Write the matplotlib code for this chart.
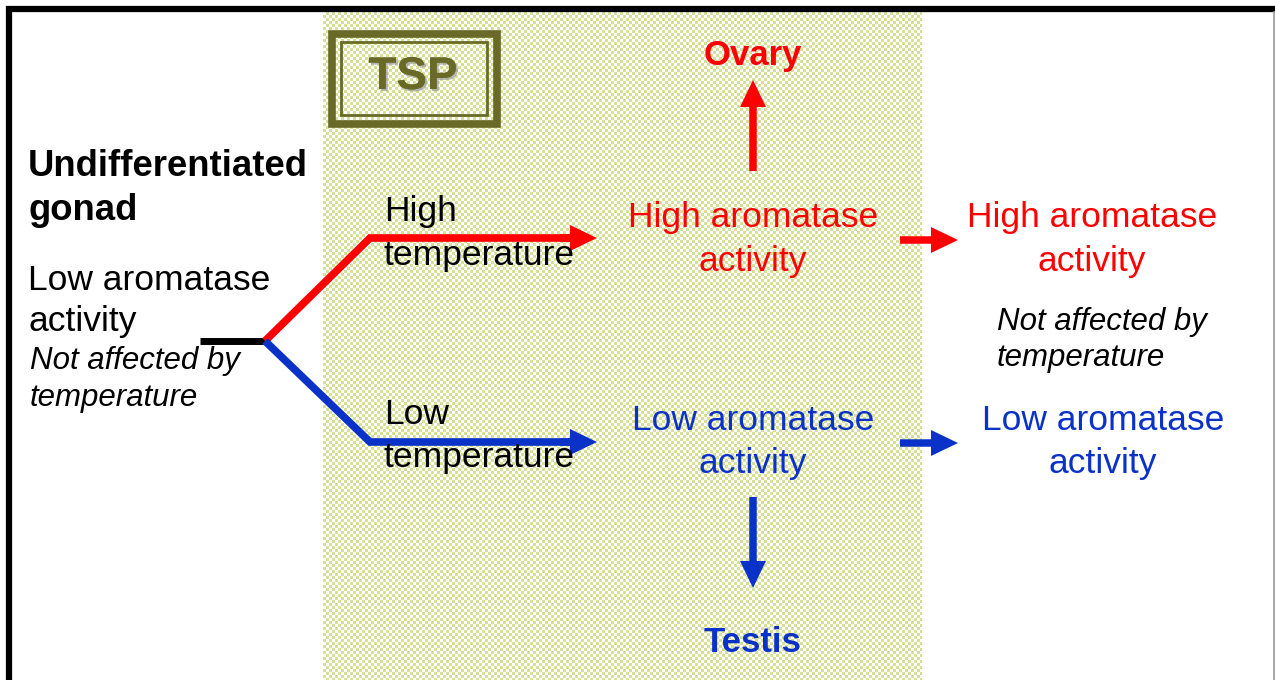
import numpy as np
import matplotlib
matplotlib.use("Agg")
import matplotlib.pyplot as plt
import matplotlib.patheffects as pe

plt.rcParams['font.family'] = ['Liberation Sans', 'DejaVu Sans']

W, H = 1275, 680
RED = "#ff0000"
BLUE = "#0a32c8"
OLIVE = "#696a28"
GREEN = (0.84, 0.878, 0.59)

# texts of the diagram
left_title = ["Undifferentiated", "gonad"]
left_state = ["Low aromatase", "activity"]
left_note = ["Not affected by", "temperature"]
high_temp = ["High", "temperature"]
low_temp = ["Low", "temperature"]
high_arom = ["High aromatase", "activity"]
low_arom = ["Low aromatase", "activity"]
right_note = ["Not affected by", "temperature"]
box_label = "TSP"
top_outcome = "Ovary"
bottom_outcome = "Testis"

fig = plt.figure(figsize=(W / 100, H / 100), dpi=100, facecolor="white")

# checkered TSP background, drawn pixel for pixel
cell = 3
x0, x1, y0 = 323, 922, 12
pw, ph = x1 - x0, H - y0
rows = np.arange(ph) // cell
cols = np.arange(pw) // cell
mask = np.add.outer(rows, cols) % 2
rgb = np.ones((ph, pw, 3))
rgb[mask == 1] = GREEN
fig.figimage(rgb, xo=x0, yo=0, origin="upper", zorder=0)

ax = fig.add_axes([0, 0, 1, 1])
ax.set_zorder(2)
ax.patch.set_visible(False)
ax.set_xlim(0, W)
ax.set_ylim(H, 0)
ax.axis("off")

# frame
ax.plot([9, 9, W], [H, 9, 9], color="black", lw=4.5, solid_joinstyle="miter", zorder=5)
ax.plot([W - 1.5, W - 1.5], [12, H], color="#999999", lw=1.2, zorder=5)

# TSP box
ax.add_patch(plt.Rectangle((331.5, 33.5), 165, 90, fill=False, ec=OLIVE, lw=5.5, zorder=3))
ax.add_patch(plt.Rectangle((341, 42), 146, 73, fill=False, ec=OLIVE, lw=2, zorder=3))
ax.text(413, 77, box_label, color=OLIVE, fontsize=33, fontweight="bold",
        ha="center", va="center", zorder=4,
        path_effects=[pe.withSimplePatchShadow(offset=(1.5, -1.5), shadow_rgbFace="#9a9a9a", alpha=0.7),
                      pe.Normal()])

fs = 25.5

# left block
for i, t in enumerate(left_title):
    ax.text(28, 167 + i * 43, t, fontsize=26.3, fontweight="bold", va="center")
for i, t in enumerate(left_state):
    ax.text(28, 280 + i * 42, t, fontsize=fs, va="center")
for i, t in enumerate(left_note):
    ax.text(30, 361 + i * 37, t, fontsize=22.5, style="italic", va="center")

# branch lines
ax.plot([200, 265], [341, 341], color="black", lw=5, solid_capstyle="butt", zorder=2)
ax.plot([265, 370, 570], [341, 238, 238], color=RED, lw=5.5,
        solid_joinstyle="miter", solid_capstyle="butt", zorder=2)
ax.plot([265, 370, 570], [341, 442, 442], color=BLUE, lw=5.5,
        solid_joinstyle="miter", solid_capstyle="butt", zorder=2)

def arrow(x, y, dx, dy, c):
    ax.arrow(x, y, dx, dy, width=7.5, head_width=26, head_length=27,
             length_includes_head=True, color=c, lw=0, zorder=2)

arrow(560, 238, 37, 0, RED)
arrow(560, 442, 37, 0, BLUE)
arrow(753, 171, 0, -91, RED)
arrow(900, 240, 58, 0, RED)
arrow(900, 443, 58, 0, BLUE)
arrow(753, 497, 0, 91, BLUE)

# temperature labels
for i, t in enumerate(high_temp):
    ax.text(384, 212 + i * 43, t, fontsize=fs, va="center", zorder=3)
for i, t in enumerate(low_temp):
    ax.text(384, 415 + i * 43, t, fontsize=fs, va="center", zorder=3)

# aromatase activity
for cx in (753, 1092):
    for i, t in enumerate(high_arom):
        ax.text(cx, 217 + i * 44, t, fontsize=fs, color=RED, ha="center", va="center")
for cx in (753, 1103):
    for i, t in enumerate(low_arom):
        ax.text(cx, 421 + i * 43, t, fontsize=fs, color=BLUE, ha="center", va="center")

for i, t in enumerate(right_note):
    ax.text(997, 322 + i * 36, t, fontsize=22.5, style="italic", va="center")

ax.text(753, 55, top_outcome, fontsize=25, fontweight="bold", color=RED,
        ha="center", va="center")
ax.text(753, 642, bottom_outcome, fontsize=25, fontweight="bold", color=BLUE,
        ha="center", va="center")

fig.savefig("out.png", dpi=100)
